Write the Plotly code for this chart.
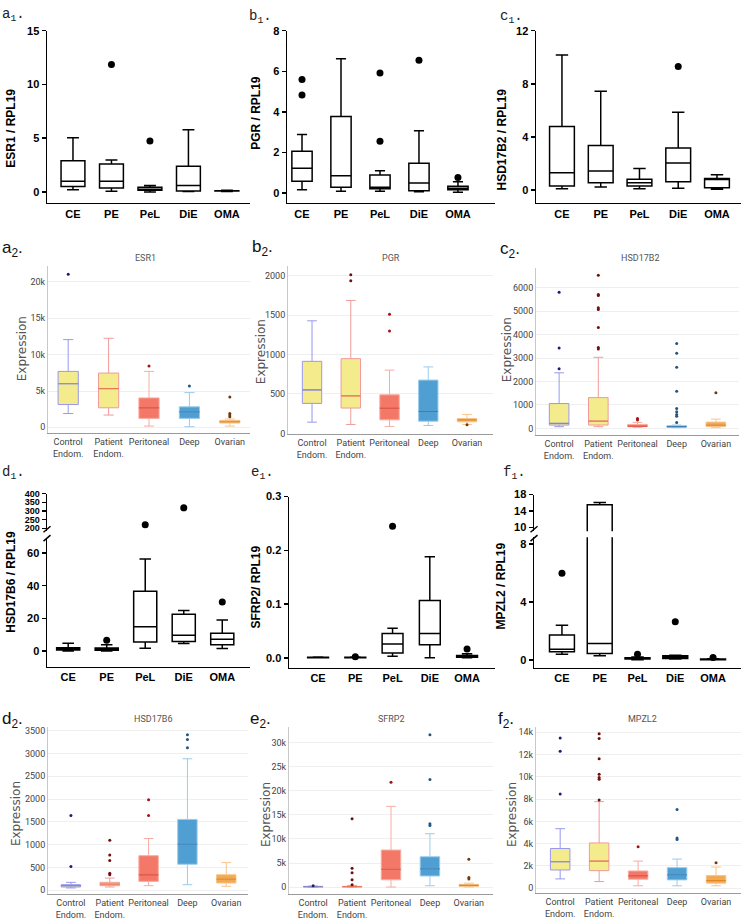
import plotly.graph_objects as go

W, H = 741, 920

# ---------------- categories ----------------
qpcr_groups = ["CE", "PE", "PeL", "DiE", "OMA"]
rna_groups = ["Control Endom.", "Patient Endom.", "Peritoneal", "Deep", "Ovarian"]
rna_tick_labels = ["Control<br>Endom.", "Patient<br>Endom.", "Peritoneal", "Deep", "Ovarian"]

# ---------------- a1  ESR1 / RPL19 (qPCR) ----------------
a1_low = [0.2, 0.06, 0.0, 0.05, 0.05]
a1_q1 = [0.52, 0.37, 0.15, 0.1, 0.08]
a1_med = [1.0, 1.0, 0.25, 0.6, 0.1]
a1_q3 = [2.9, 2.6, 0.45, 2.4, 0.12]
a1_high = [5.05, 2.97, 0.6, 5.8, 0.15]
a1_out_group = ["PE", "PeL"]
a1_out_value = [11.85, 4.75]

# ---------------- b1  PGR / RPL19 ----------------
b1_low = [0.15, 0.08, 0.08, 0.06, 0.03]
b1_q1 = [0.57, 0.28, 0.2, 0.11, 0.15]
b1_med = [1.22, 0.85, 0.28, 0.49, 0.23]
b1_q3 = [2.06, 3.77, 0.88, 1.46, 0.33]
b1_high = [2.88, 6.62, 1.09, 3.07, 0.55]
b1_out_group = ["CE", "CE", "PeL", "PeL", "DiE", "OMA"]
b1_out_value = [5.6, 4.83, 5.92, 2.55, 6.54, 0.76]

# ---------------- c1  HSD17B2 / RPL19 ----------------
c1_low = [0.1, 0.22, 0.1, 0.12, 0.05]
c1_q1 = [0.3, 0.55, 0.3, 0.62, 0.17]
c1_med = [1.3, 1.42, 0.55, 2.04, 0.8]
c1_q3 = [4.78, 3.36, 0.8, 3.16, 0.87]
c1_high = [10.18, 7.44, 1.62, 5.85, 1.15]
c1_out_group = ["DiE"]
c1_out_value = [9.31]

# ---------------- d1  HSD17B6 / RPL19 ----------------
d1_low = [0.0, 0.0, 1.6, 4.5, 1.4]
d1_q1 = [0.6, 0.4, 5.5, 5.7, 3.7]
d1_med = [1.4, 1.0, 14.8, 9.6, 7.1]
d1_q3 = [2.0, 1.8, 36.5, 22.4, 10.8]
d1_high = [4.7, 3.7, 56.3, 24.8, 18.9]
d1_out_group = ["PE", "PeL", "DiE", "OMA"]
d1_out_value = [6.5, 221, 318, 29.9]

# ---------------- e1  SFRP2 / RPL19 ----------------
e1_low = [0.0, 0.0, 0.003, 0.0, 0.0]
e1_q1 = [0.0003, 0.0003, 0.0092, 0.0245, 0.0012]
e1_med = [0.0006, 0.0006, 0.0258, 0.0454, 0.003]
e1_q3 = [0.001, 0.001, 0.0454, 0.1067, 0.0043]
e1_high = [0.0015, 0.0015, 0.0552, 0.188, 0.0074]
e1_out_group = ["PE", "PeL", "OMA"]
e1_out_value = [0.0018, 0.245, 0.0166]

# ---------------- f1  MPZL2 / RPL19 ----------------
f1_low = [0.39, 0.27, 0.0, 0.05, 0.0]
f1_q1 = [0.55, 0.43, 0.05, 0.09, 0.01]
f1_med = [0.73, 1.12, 0.09, 0.2, 0.03]
f1_q3 = [1.71, 15.55, 0.14, 0.27, 0.05]
f1_high = [2.38, 16.1, 0.2, 0.32, 0.07]
f1_out_group = ["CE", "PeL", "DiE", "OMA"]
f1_out_value = [5.99, 0.39, 2.63, 0.16]

# ---------------- a2  ESR1 (RNA expression) ----------------
a2_low = [1900, 1690, 180, 90, 180]
a2_q1 = [3140, 2690, 1230, 1230, 590]
a2_med = [6000, 5330, 2690, 2140, 770]
a2_q3 = [7700, 7470, 4050, 2820, 960]
a2_high = [12070, 12250, 7700, 4780, 1140]
a2_out_group = ["Control Endom.", "Peritoneal", "Deep", "Ovarian", "Ovarian", "Ovarian", "Ovarian"]
a2_out_value = [21050, 8430, 5690, 4190, 1900, 1690, 1460]

# ---------------- b2  PGR ----------------
b2_low = [142, 113, 88, 100, 113]
b2_q1 = [380, 321, 171, 154, 146]
b2_med = [551, 476, 321, 280, 171]
b2_q3 = [914, 948, 489, 676, 188]
b2_high = [1428, 1687, 802, 843, 238]
b2_out_group = ["Patient Endom.", "Patient Endom.", "Peritoneal", "Peritoneal", "Ovarian"]
b2_out_value = [2012, 1937, 1511, 1298, 108]

# ---------------- c2  HSD17B2 ----------------
c2_low = [71, 71, 42, 28, 28]
c2_q1 = [141, 141, 71, 42, 71]
c2_med = [212, 311, 99, 71, 141]
c2_q3 = [1059, 1313, 169, 113, 268]
c2_high = [2372, 3035, 254, 141, 395]
c2_out_group = (["Control Endom."] * 3 + ["Patient Endom."] * 8 + ["Peritoneal"] * 2
                + ["Deep"] * 9 + ["Ovarian"])
c2_out_value = [5817, 3431, 2541,
                6537, 5718, 5675, 5153, 5082, 4306, 3459, 3388,
                424, 353,
                3628, 3205, 2612, 1581, 847, 706, 593, 522, 254,
                1525]

# ---------------- d2  HSD17B6 ----------------
d2_low = [51, 72, 101, 123, 87]
d2_q1 = [72, 101, 195, 571, 159]
d2_med = [101, 137, 340, 1012, 246]
d2_q3 = [123, 174, 759, 1555, 340]
d2_high = [174, 268, 1135, 2885, 607]
d2_out_group = (["Control Endom."] * 2 + ["Patient Endom."] * 5 + ["Peritoneal"] * 2 + ["Deep"] * 3)
d2_out_value = [1641, 521, 1099, 774, 651, 376, 340, 1988, 1641, 3413, 3305, 3124]

# ---------------- e2  SFRP2 ----------------
e2_low = [0, 0, 0, 270, 0]
e2_q1 = [30, 30, 1500, 2300, 140]
e2_med = [70, 70, 3700, 3800, 340]
e2_q3 = [140, 140, 7700, 6300, 550]
e2_high = [200, 340, 16800, 11100, 800]
e2_out_group = (["Control Endom."] + ["Patient Endom."] * 5 + ["Peritoneal"] + ["Deep"] * 4
                + ["Ovarian"] * 3)
e2_out_value = [250, 14200, 3900, 3000, 1500, 500, 21800, 31700, 22400, 13200, 12800,
                5800, 2000, 1650]

# ---------------- f2  MPZL2 ----------------
f2_low = [830, 590, 210, 210, 210]
f2_q1 = [1630, 1570, 800, 740, 450]
f2_med = [2370, 2430, 1100, 1190, 680]
f2_q3 = [3560, 4060, 1540, 1840, 1130]
f2_high = [5340, 7770, 2430, 2610, 1900]
f2_out_group = (["Control Endom."] * 3 + ["Patient Endom."] * 7 + ["Peritoneal"] + ["Deep"] * 3
                + ["Ovarian"])
f2_out_value = [13500, 12300, 8450, 13880, 13440, 11630, 10230, 9940, 9790, 7920, 3710,
                7060, 4510, 4360, 2280]

# ---------------- styling ----------------
RNA_FILL = ["#f4ec8c", "#f4ec8c", "#f47868", "#4f9fd2", "#f2aa52"]
RNA_LINE = ["#9898ee", "#f09a9a", "#f8aca2", "#9ccbec", "#f8c48c"]
RNA_MED = ["#8a86c8", "#e8785a", "#d9483a", "#3a7fb8", "#e08624"]
RNA_DOT = ["#1c1c78", "#6e1010", "#a01414", "#22557f", "#6a3a10"]

BLACK_FONT = dict(family="Liberation Sans, Arial", size=11, color="black", weight="bold")
SMALL_BLACK_FONT = dict(family="Liberation Sans, Arial", size=9, color="black", weight="bold")
GRAY_FONT = dict(family="Liberation Sans Narrow, Arial Narrow, Roboto", size=9, color="#444")

fig = go.Figure()
layout = {}
annotations = []
shapes = []


def an(i):
    return "" if i == 1 else str(i)


def dom_x(x0, x1):
    return [x0 / W, x1 / W]


def dom_y(top, bottom):
    return [1 - bottom / H, 1 - top / H]


def qpcr_axes(i, xpx, ypx, xr, yr, tickvals, ticktext, show_x=True, font=BLACK_FONT):
    layout["xaxis" + an(i)] = dict(
        domain=dom_x(*xpx), anchor="y" + an(i), type="category",
        categoryorder="array", categoryarray=qpcr_groups, range=xr,
        showline=show_x, linecolor="black", linewidth=1.5, ticks="",
        showticklabels=show_x, tickfont=BLACK_FONT, showgrid=False, zeroline=False,
        visible=show_x, fixedrange=True, tickangle=0)
    layout["yaxis" + an(i)] = dict(
        domain=dom_y(*ypx), anchor="x" + an(i), range=yr,
        showline=True, linecolor="black", linewidth=1.5, ticks="outside",
        ticklen=4, tickwidth=1.5, tickcolor="black", tickvals=tickvals, ticktext=ticktext,
        tickfont=font, showgrid=False, zeroline=False, fixedrange=True)


def qpcr_traces(i, low, q1, med, q3, high, og, ov, width=0.6):
    xa, ya = "x" + an(i), "y" + an(i)
    fig.add_trace(go.Box(
        x=qpcr_groups, lowerfence=low, q1=q1, median=med, q3=q3, upperfence=high,
        width=width, whiskerwidth=0.5, fillcolor="white",
        line=dict(color="black", width=1.5), boxpoints=False,
        xaxis=xa, yaxis=ya, showlegend=False, hoverinfo="skip"))
    fig.add_trace(go.Scatter(
        x=og, y=ov, mode="markers", marker=dict(color="black", size=7),
        xaxis=xa, yaxis=ya, showlegend=False, hoverinfo="skip"))


def rna_axes(i, xpx, ypx, xr, yr, dtick, fmt):
    layout["xaxis" + an(i)] = dict(
        domain=dom_x(*xpx), anchor="y" + an(i), type="category",
        categoryorder="array", categoryarray=rna_groups, range=xr,
        tickmode="array", tickvals=rna_groups, ticktext=rna_tick_labels,
        showline=True, linecolor="#9a9a9a", linewidth=1, ticks="", tickangle=0,
        tickfont=GRAY_FONT, showgrid=False, zeroline=False, fixedrange=True)
    layout["yaxis" + an(i)] = dict(
        domain=dom_y(*ypx), anchor="x" + an(i), range=yr, dtick=dtick, tick0=0,
        tickformat=fmt, showline=True, linecolor="#c8c8c8", linewidth=1, ticks="",
        tickfont=GRAY_FONT, showgrid=True, gridcolor="#efefef", gridwidth=1,
        zeroline=False, fixedrange=True)


def rna_traces(i, low, q1, med, q3, high, og, ov):
    xa, ya = "x" + an(i), "y" + an(i)
    for k, g in enumerate(rna_groups):
        fig.add_trace(go.Box(
            x=[g], lowerfence=[low[k]], q1=[q1[k]], median=[med[k]], q3=[q3[k]],
            upperfence=[high[k]], width=0.5, whiskerwidth=0.5, fillcolor=RNA_FILL[k],
            line=dict(color=RNA_LINE[k], width=1), boxpoints=False,
            xaxis=xa, yaxis=ya, showlegend=False, hoverinfo="skip"))
        fig.add_trace(go.Box(
            x=[g], lowerfence=[med[k]], q1=[med[k]], median=[med[k]], q3=[med[k]],
            upperfence=[med[k]], width=0.5, whiskerwidth=0, fillcolor="rgba(0,0,0,0)",
            line=dict(color=RNA_MED[k], width=1.2), boxpoints=False,
            xaxis=xa, yaxis=ya, showlegend=False, hoverinfo="skip"))
    colors = [RNA_DOT[rna_groups.index(g)] for g in og]
    fig.add_trace(go.Scatter(
        x=og, y=ov, mode="markers", marker=dict(color=colors, size=3),
        xaxis=xa, yaxis=ya, showlegend=False, hoverinfo="skip"))


def label(px, py, text, font, angle=0, xanchor="center", yanchor="middle"):
    annotations.append(dict(
        x=px / W, y=1 - py / H, xref="paper", yref="paper", text=text, showarrow=False,
        font=font, textangle=angle, xanchor=xanchor, yanchor=yanchor))


def brk(px, py):
    shapes.append(dict(type="line", xref="paper", yref="paper",
                       x0=(px - 3.5) / W, y0=1 - (py + 3) / H,
                       x1=(px + 3.5) / W, y1=1 - (py - 3) / H,
                       line=dict(color="black", width=1.5)))


# ---------------- row 1 (qPCR) ----------------
qpcr_axes(1, (47, 250), (25, 199), [-0.675, 4.6], [-1.01, 15], [0, 5, 10, 15], ["0", "5", "10", "15"])
qpcr_traces(1, a1_low, a1_q1, a1_med, a1_q3, a1_high, a1_out_group, a1_out_value, 0.62)
qpcr_axes(2, (287, 495), (25, 199), [-0.385, 4.95], [-0.49, 8], [0, 2, 4, 6, 8], ["0", "2", "4", "6", "8"])
qpcr_traces(2, b1_low, b1_q1, b1_med, b1_q3, b1_high, b1_out_group, b1_out_value, 0.52)
qpcr_axes(3, (536, 741), (25, 199), [-0.67, 4.62], [-0.97, 12], [0, 4, 8, 12], ["0", "4", "8", "12"])
qpcr_traces(3, c1_low, c1_q1, c1_med, c1_q3, c1_high, c1_out_group, c1_out_value, 0.64)

# ---------------- row 2 (RNA) ----------------
rna_axes(4, (48, 250), (263, 432), [-0.5, 4.5], [-820, 22180], 5000, "~s")
rna_traces(4, a2_low, a2_q1, a2_med, a2_q3, a2_high, a2_out_group, a2_out_value)
rna_axes(5, (288, 493), (263, 433), [-0.62, 4.67], [-12, 2122], 500, "")
rna_traces(5, b2_low, b2_q1, b2_med, b2_q3, b2_high, b2_out_group, b2_out_value)
rna_axes(6, (536, 739), (265, 434), [-0.59, 4.59], [-296, 6845], 1000, "")
rna_traces(6, c2_low, c2_q1, c2_med, c2_q3, c2_high, c2_out_group, c2_out_value)

# ---------------- row 3 (qPCR, broken axes) ----------------
qpcr_axes(7, (47, 250), (538, 668), [-0.55, 4.72], [-9.7, 69.1], [0, 20, 40, 60], ["0", "20", "40", "60"])
qpcr_traces(7, d1_low, d1_q1, d1_med, d1_q3, d1_high, d1_out_group, d1_out_value, 0.6)
qpcr_axes(13, (47, 250), (493, 531), [-0.55, 4.72], [183, 400], [200, 250, 300, 350, 400],
          ["200", "250", "300", "350", "400"], show_x=False, font=SMALL_BLACK_FONT)
qpcr_traces(13, d1_low, d1_q1, d1_med, d1_q3, d1_high, d1_out_group, d1_out_value, 0.6)

qpcr_axes(8, (289, 495), (496, 669), [-0.78, 4.75], [-0.0184, 0.3], [0, 0.1, 0.2, 0.3],
          ["0.0", "0.1", "0.2", "0.3"])
qpcr_traces(8, e1_low, e1_q1, e1_med, e1_q3, e1_high, e1_out_group, e1_out_value, 0.56)

qpcr_axes(9, (534, 741), (537, 669), [-0.74, 4.74], [-0.55, 8.48], [0, 4, 8], ["0", "4", "8"])
qpcr_traces(9, f1_low, f1_q1, f1_med, f1_q3, f1_high, f1_out_group, f1_out_value, 0.66)
qpcr_axes(14, (534, 741), (494, 531), [-0.74, 4.74], [9.03, 18], [10, 14, 18], ["10", "14", "18"],
          show_x=False)
qpcr_traces(14, f1_low, f1_q1, f1_med, f1_q3, f1_high, f1_out_group, f1_out_value, 0.66)

# ---------------- row 4 (RNA) ----------------
rna_axes(10, (48, 248), (729, 898), [-0.59, 4.56], [-87, 3580], 500, "")
rna_traces(10, d2_low, d2_q1, d2_med, d2_q3, d2_high, d2_out_group, d2_out_value)
rna_axes(11, (289, 493), (729, 898), [-0.62, 4.62], [-1500, 33300], 5000, "~s")
rna_traces(11, e2_low, e2_q1, e2_med, e2_q3, e2_high, e2_out_group, e2_out_value)
rna_axes(12, (536, 741), (729, 897), [-0.62, 4.64], [-460, 14470], 2000, "~s")
rna_traces(12, f2_low, f2_q1, f2_med, f2_q3, f2_high, f2_out_group, f2_out_value)

# ---------------- break marks ----------------
brk(47, 529)
brk(47, 538)
brk(534, 529)
brk(534, 538)

# ---------------- texts ----------------
YT1 = dict(family="Liberation Sans, Arial", size=12, color="black", weight="bold")
YT2 = dict(family="DejaVu Sans", size=12, color="#555")
TT2 = dict(family="Liberation Sans Narrow, Arial Narrow, Roboto", size=9, color="#555")
PL1 = dict(family="Liberation Mono, Courier New", size=14, color="#222")
PL2 = dict(family="Liberation Sans, Arial", size=17, color="#111")

label(11, 124, "ESR1 / RPL19", YT1, -90)
label(256, 108, "PGR / RPL19", YT1, -90)
label(502, 135, "HSD17B2 / RPL19", YT1, -90)
label(11, 582, "HSD17B6 / RPL19", YT1, -90)
label(256, 588, "SFRP2/ RPL19", YT1, -90)
label(501, 587, "MPZL2 / RPL19", YT1, -90)

label(22, 347, "Expression", YT2, -90)
label(261, 350, "Expression", YT2, -90)
label(507, 348, "Expression", YT2, -90)
label(16, 817, "Expression", YT2, -90)
label(266, 818, "Expression", YT2, -90)
label(512, 818, "Expression", YT2, -90)

label(145, 255, "ESR1", TT2)
label(391, 255, "PGR", TT2)
label(640, 255, "HSD17B2", TT2)
label(153, 721, "HSD17B6", TT2)
label(391, 721, "SFRP2", TT2)
label(642, 721, "MPZL2", TT2)

label(0, 9, "a<sub>1</sub>.", PL1, xanchor="left")
label(247, 11, "b<sub>1</sub>.", PL1, xanchor="left")
label(498, 11, "c<sub>1</sub>.", PL1, xanchor="left")
label(0, 472, "d<sub>1</sub>.", PL1, xanchor="left")
label(249, 472, "e<sub>1</sub>.", PL1, xanchor="left")
label(501, 472, "f<sub>1</sub>.", PL1, xanchor="left")

label(0, 246, "a<sub>2</sub>.", PL2, xanchor="left")
label(250, 245, "b<sub>2</sub>.", PL2, xanchor="left")
label(498, 247, "c<sub>2</sub>.", PL2, xanchor="left")
label(0, 722, "d<sub>2</sub>.", PL2, xanchor="left")
label(248, 722, "e<sub>2</sub>.", PL2, xanchor="left")
label(496, 722, "f<sub>2</sub>.", PL2, xanchor="left")

layout.update(dict(
    width=W, height=H, margin=dict(l=0, r=0, t=0, b=0),
    paper_bgcolor="white", plot_bgcolor="white", showlegend=False,
    boxmode="overlay", annotations=annotations, shapes=shapes,
))
fig.update_layout(**layout)
fig.write_html(
    "out.html",
    config={"displayModeBar": False, "staticPlot": True},
    post_script="document.body.style.margin='0';document.body.style.overflow='hidden';",
)
